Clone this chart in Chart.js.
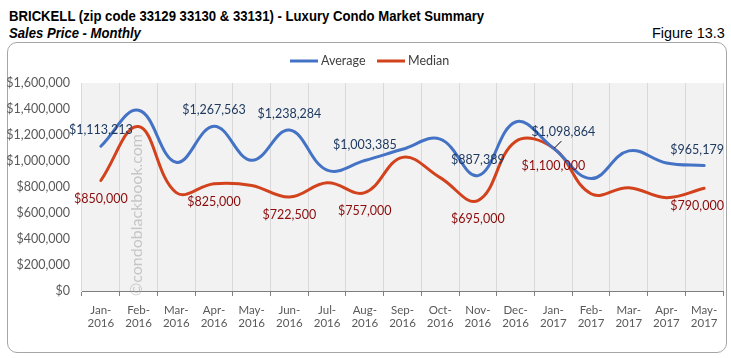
<!DOCTYPE html>
<html lang="en">
    <head>
        <title>Brickell Luxury Condo Market Summary :: Sales Price</title>
        <meta charset="utf-8">
        <script src="https://cdn.jsdelivr.net/npm/chart.js@4.4.1/dist/chart.umd.min.js"></script>
        <style>
            body {
                margin: 0;
                background: #ffffff;
            }
            #wrapper {
                position: relative;
                width: 731px;
                height: 358px;
                overflow: hidden;
            }
            .head {
                position: absolute;
                font-family: "Liberation Sans", Arial, sans-serif;
                color: #000000;
                white-space: nowrap;
            }
            /* narrow look, like Arial Narrow */
            #title { left: 9px; top: 7px; font-size: 15px; font-weight: bold; transform: scaleX(0.876); transform-origin: left top; }
            #subtitle { left: 9px; top: 24px; font-size: 15px; font-weight: bold; font-style: italic; transform: scaleX(0.874); transform-origin: left top; }
            #figure { right: 6px; top: 24px; font-size: 15px; transform: scaleX(0.96); transform-origin: right top; }
            #box {
                position: absolute;
                left: 7px;
                top: 42px;
                width: 718px;
                height: 309px;
                border: 1px solid #a6a6a6;
                border-radius: 10px;
            }
            #salesChart {
                position: absolute;
                left: 0;
                top: 0;
            }
        </style>
    </head>
    <body>
        <div id="wrapper"><!-- page wrapper -->
            <div id="title" class="head">BRICKELL (zip code 33129 33130 &amp; 33131) - Luxury Condo Market Summary</div>
            <div id="subtitle" class="head">Sales Price - Monthly</div>
            <div id="figure" class="head">Figure 13.3</div>
            <div id="box"></div>
            <canvas id="salesChart" width="731" height="358"></canvas>
        </div>
        <script>
            // months shown on the x axis (two lines each)
            var months = [['Jan-', '2016'], ['Feb-', '2016'], ['Mar-', '2016'], ['Apr-', '2016'],
                ['May-', '2016'], ['Jun-', '2016'], ['Jul-', '2016'], ['Aug-', '2016'],
                ['Sep-', '2016'], ['Oct-', '2016'], ['Nov-', '2016'], ['Dec-', '2016'],
                ['Jan-', '2017'], ['Feb-', '2017'], ['Mar-', '2017'], ['Apr-', '2017'], ['May-', '2017']];

            var averagePrice = [1113213, 1390000, 990000, 1267563, 1005000, 1238284, 930000, 1003385,
                1090000, 1168000, 887389, 1300000, 1098864, 865000, 1078000, 985000, 965179];

            var medianPrice = [850000, 1265000, 757000, 825000, 812000, 722500, 832000, 757000,
                1028000, 872000, 695000, 1150000, 1100000, 748000, 795000, 718000, 790000];

            var yTicks = [0, 200000, 400000, 600000, 800000, 1000000, 1200000, 1400000, 1600000];

            // which months carry a value label
            var labelledMonths = [0, 3, 5, 7, 10, 12, 16];

            function money(v) {
                return '$' + Number(v).toLocaleString('en-US');
            }

            // grey plot background
            var plotBack = {
                id: 'plotBack',
                beforeDraw: function(chart) {
                    var a = chart.chartArea;
                    var c = chart.ctx;
                    c.save();
                    c.fillStyle = '#f2f2f2';
                    c.fillRect(a.left, a.top, a.right - a.left, a.bottom - a.top);
                    c.restore();
                }
            };

            // watermark, legend and value labels
            var extras = {
                id: 'extras',
                afterDatasetsDraw: function(chart) {
                    var c = chart.ctx;
                    c.save();
                    c.translate(137, 215);
                    c.rotate(-Math.PI / 2);
                    c.font = '16px Lato';
                    c.fillStyle = 'rgba(160,160,160,0.55)';
                    c.textAlign = 'center';
                    c.textBaseline = 'middle';
                    c.fillText('\u00A9condoblackbook.com', 0, 0);
                    c.restore();
                },
                afterDraw: function(chart) {
                    var c = chart.ctx;
                    var sets = chart.data.datasets;
                    c.save();
                    // legend
                    c.font = '12.5px Lato';
                    c.textBaseline = 'middle';
                    c.textAlign = 'left';
                    var legX = [290, 377];
                    sets.forEach(function(ds, k) {
                        c.strokeStyle = ds.borderColor;
                        c.lineWidth = 3;
                        c.beginPath();
                        c.moveTo(legX[k], 61);
                        c.lineTo(legX[k] + 28, 61);
                        c.stroke();
                        c.fillStyle = '#404040';
                        c.fillText(ds.label, legX[k] + 31, 61);
                    });

                    // value labels
                    c.font = '12.5px Lato';
                    c.textAlign = 'center';
                    sets.forEach(function(ds, k) {
                        var meta = chart.getDatasetMeta(k);
                        c.fillStyle = k === 0 ? '#1f3a60' : '#8b0a0a';
                        labelledMonths.forEach(function(i) {
                            var p = meta.data[i];
                            var dx = 0;
                            var dy = k === 0 ? -16 : 18;
                            if (i === 16) dx = -7;
                            if (k === 0 && i === 12) {
                                dx = 10;
                                c.strokeStyle = '#000000';
                                c.lineWidth = 1;
                                c.beginPath();
                                c.moveTo(p.x + 1, p.y);
                                c.lineTo(p.x + 8, p.y - 7);
                                c.stroke();
                            }
                            c.fillText(money(ds.data[i]), p.x + dx, p.y + dy);
                        });
                    });
                    c.restore();
                }
            };

            var ctx = document.getElementById('salesChart').getContext('2d');
            var myChart = new Chart(ctx, {
                type: 'line',
                data: {
                    labels: months,
                    datasets: [{
                        label: 'Average',
                        data: averagePrice,
                        borderColor: '#4472c4',
                        backgroundColor: '#4472c4'
                    }, {
                        label: 'Median',
                        data: medianPrice,
                        borderColor: '#d2421c',
                        backgroundColor: '#d2421c'
                    }]
                },
                options: {
                    responsive: false,
                    animation: false,
                    devicePixelRatio: 1,
                    layout: {
                        padding: { top: 83, right: 8, bottom: 0, left: 0 }
                    },
                    elements: {
                        point: { radius: 0 },
                        line: { borderWidth: 3, tension: 0.4, borderCapStyle: 'round' }
                    },
                    plugins: {
                        legend: { display: false },
                        tooltip: { enabled: false }
                    },
                    scales: {
                        x: {
                            offset: true,
                            grid: {
                                offset: true,
                                color: '#d9d9d9',
                                tickColor: '#7f7f7f',
                                tickLength: 5
                            },
                            border: { color: '#7f7f7f' },
                            ticks: {
                                autoSkip: false,
                                maxRotation: 0,
                                padding: 7,
                                color: '#595959',
                                font: { family: 'Lato', size: 11.5 }
                            },
                            afterFit: function(scale) { scale.height = 67; }
                        },
                        y: {
                            min: 0,
                            max: 1600000,
                            grid: { display: false },
                            border: { display: false },
                            afterBuildTicks: function(scale) {
                                scale.ticks = yTicks.map(function(v) { return { value: v }; });
                            },
                            ticks: {
                                padding: 4,
                                color: '#595959',
                                font: { family: 'Lato', size: 12.5 },
                                callback: function(v) { return money(v); }
                            },
                            afterFit: function(scale) { scale.width = 82; }
                        }
                    }
                },
                plugins: [plotBack, extras]
            });
        </script>
    </body>
</html>
